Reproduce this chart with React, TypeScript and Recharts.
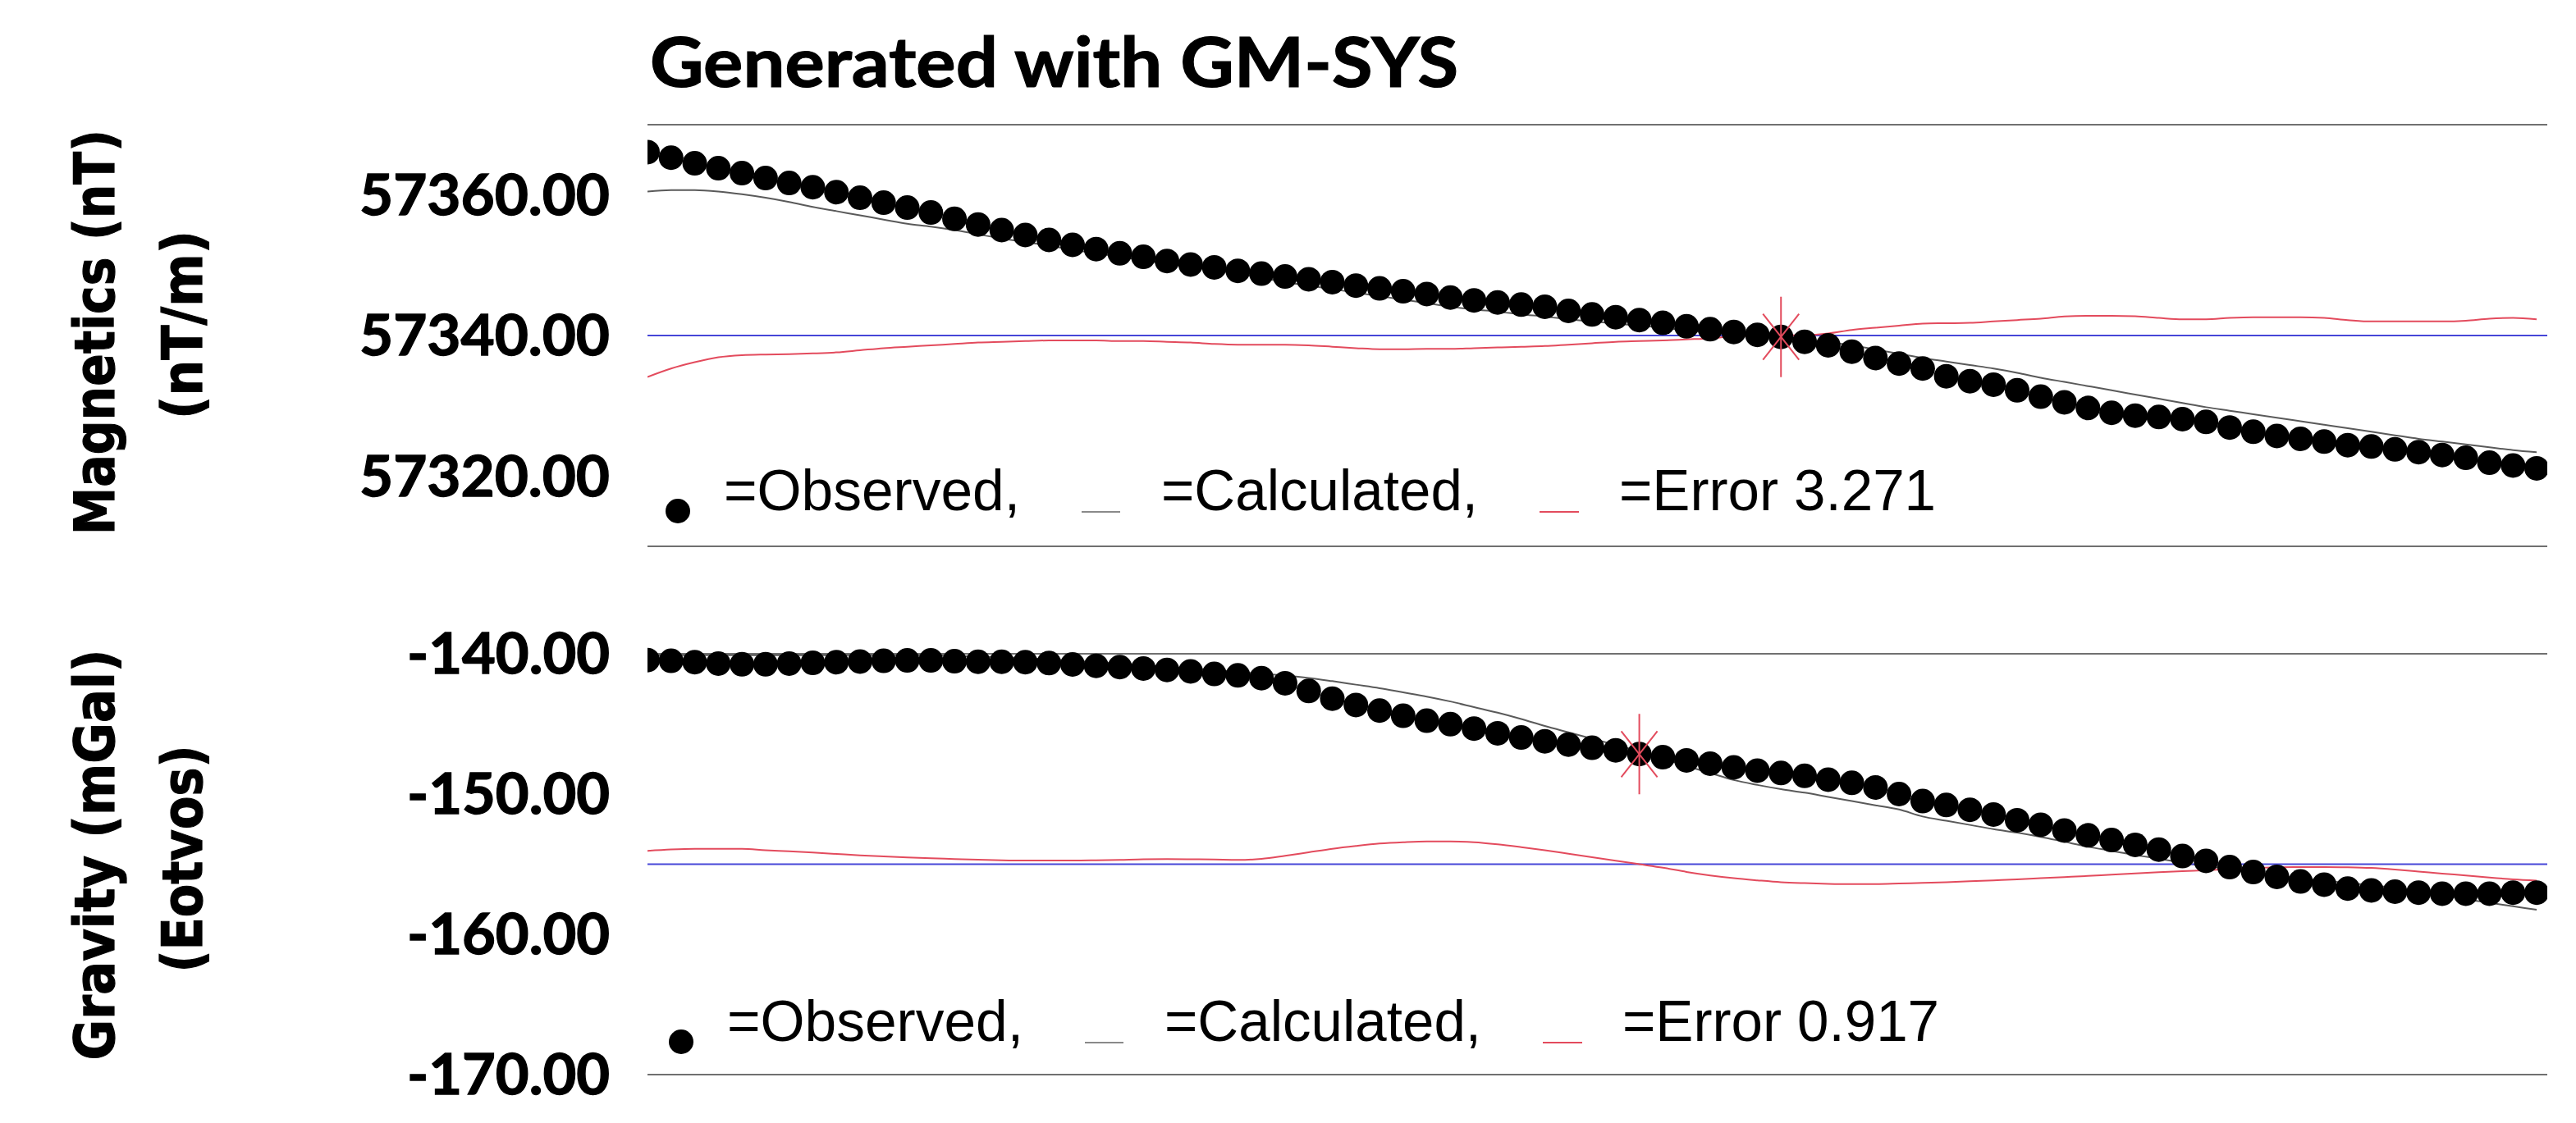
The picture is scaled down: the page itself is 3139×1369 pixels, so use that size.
import { ComposedChart, Scatter, Line, XAxis, YAxis, ReferenceLine, ReferenceDot } from "recharts";

const W = 3139;
const H = 1369;
const PLOT_LEFT = 789;
const PLOT_RIGHT = 3104;
const TICK_RIGHT = 743;

const GRAY = "#707070";
const CALC = "#5a5a5a";
const BLUE = "#4646d8";
const RED = "#e34b5d";

// Magnetics panel (nT), one value per station
const MAG_OBS = [
  57366.1, 57365.3, 57364.5, 57363.8, 57363.1, 57362.4, 57361.7, 57361.1, 57360.4, 57359.6,
  57358.9, 57358.2, 57357.5, 57356.6, 57355.8, 57355.0, 57354.3, 57353.6, 57352.9, 57352.3,
  57351.7, 57351.2, 57350.6, 57350.1, 57349.7, 57349.2, 57348.8, 57348.4, 57348.0, 57347.6,
  57347.1, 57346.7, 57346.3, 57345.9, 57345.4, 57345.0, 57344.7, 57344.4, 57344.1, 57343.5,
  57343.0, 57342.6, 57342.2, 57341.8, 57341.3, 57340.9, 57340.5, 57340.1, 57339.8, 57339.1,
  57338.6, 57337.7, 57336.8, 57336.0, 57335.3, 57334.2, 57333.5, 57333.0, 57332.2, 57331.3,
  57330.5, 57329.7, 57329.0, 57328.6, 57328.4, 57328.1, 57327.7, 57326.9, 57326.3, 57325.7,
  57325.3, 57324.9, 57324.4, 57324.2, 57323.8, 57323.4, 57323.0, 57322.6, 57321.9, 57321.5,
  57321.1,
];
const MAG_CALC = [
  57360.5, 57360.7, 57360.7, 57360.5, 57360.1, 57359.6, 57359.0, 57358.3, 57357.7, 57357.1,
  57356.5, 57355.9, 57355.5, 57355.0, 57354.4, 57353.8, 57353.3, 57352.8, 57352.2, 57351.7,
  57351.2, 57350.7, 57350.2, 57349.8, 57349.3, 57348.8, 57348.2, 57347.6, 57347.1, 57346.6,
  57346.1, 57345.6, 57345.1, 57344.6, 57344.1, 57343.7, 57343.4, 57343.0, 57342.7, 57342.3,
  57342.0, 57341.7, 57341.4, 57341.1, 57340.7, 57340.4, 57340.1, 57339.8, 57339.6, 57339.3,
  57339.0, 57338.6, 57338.0, 57337.4, 57336.8, 57336.3, 57335.8, 57335.3, 57334.7, 57334.0,
  57333.4, 57332.8, 57332.2, 57331.6, 57331.0, 57330.4, 57329.8, 57329.3, 57328.8, 57328.3,
  57327.8, 57327.3, 57326.8, 57326.3, 57325.8, 57325.3, 57324.9, 57324.5, 57324.1, 57323.7,
  57323.4,
];
const MAG_ERR = [
  -5.9, -4.7, -3.8, -3.1, -2.8, -2.7, -2.65, -2.55, -2.4, -2.1,
  -1.8, -1.6, -1.4, -1.2, -1.0, -0.9, -0.8, -0.7, -0.7, -0.7,
  -0.8, -0.8, -0.9, -1.0, -1.2, -1.3, -1.3, -1.3, -1.4, -1.6,
  -1.8, -1.95, -1.95, -1.9, -1.9, -1.8, -1.7, -1.6, -1.5, -1.3,
  -1.1, -0.9, -0.8, -0.7, -0.55, -0.4, -0.1, 0.0, 0.0, 0.05,
  0.3, 0.8, 1.1, 1.4, 1.7, 1.75, 1.8, 2.0, 2.2, 2.4,
  2.7, 2.8, 2.8, 2.75, 2.5, 2.3, 2.3, 2.5, 2.6, 2.6,
  2.6, 2.5, 2.2, 2.0, 2.0, 2.0, 2.0, 2.1, 2.4, 2.5,
  2.3,
];
const MAG_TICKS = [57320, 57340, 57360];
const MAG_RMS = "3.271";

// Gravity panel (mGal)
const GRAV_OBS = [
  -140.45, -140.5, -140.6, -140.7, -140.75, -140.75, -140.7, -140.65, -140.6, -140.55,
  -140.5, -140.47, -140.47, -140.53, -140.57, -140.57, -140.6, -140.66, -140.76, -140.86,
  -140.95, -141.05, -141.15, -141.25, -141.44, -141.54, -141.74, -142.1, -142.65, -143.2,
  -143.65, -144.05, -144.42, -144.77, -145.02, -145.33, -145.67, -145.97, -146.24, -146.47,
  -146.7, -146.88, -147.15, -147.37, -147.6, -147.83, -148.1, -148.33, -148.5, -148.7,
  -148.97, -149.2, -149.53, -150.0, -150.5, -150.78, -151.12, -151.46, -151.87, -152.19,
  -152.6, -152.94, -153.28, -153.62, -153.96, -154.42, -154.76, -155.21, -155.56, -155.9,
  -156.23, -156.46, -156.74, -156.87, -156.96, -157.03, -157.1, -157.1, -157.1, -157.03,
  -157.03,
];
const GRAV_CALC = [
  -140.1, -140.1, -140.1, -140.1, -140.1, -140.1, -140.1, -140.1, -140.1, -140.1,
  -140.1, -140.1, -140.1, -140.15, -140.2, -140.25, -140.3, -140.4, -140.5, -140.6,
  -140.7, -140.8, -140.95, -141.05, -141.15, -141.3, -141.42, -141.55, -141.72, -141.95,
  -142.2, -142.45, -142.75, -143.05, -143.4, -143.8, -144.2, -144.65, -145.15, -145.6,
  -146.05, -146.5, -146.95, -147.45, -148.0, -148.5, -149.0, -149.35, -149.65, -149.9,
  -150.2, -150.5, -150.8, -151.1, -151.6, -151.9, -152.2, -152.5, -152.75, -153.05,
  -153.4, -153.75, -154.05, -154.35, -154.6, -154.9, -155.15, -155.35, -155.55, -155.8,
  -156.0, -156.15, -156.35, -156.5, -156.7, -157.0, -157.2, -157.5, -157.75, -158.0,
  -158.25,
];
const GRAV_ERR = [
  0.95, 1.05, 1.1, 1.1, 1.1, 1.0, 0.92, 0.83, 0.73, 0.63,
  0.55, 0.48, 0.42, 0.37, 0.32, 0.28, 0.26, 0.26, 0.26, 0.28,
  0.31, 0.35, 0.36, 0.35, 0.33, 0.3, 0.38, 0.6, 0.85, 1.1,
  1.3, 1.47, 1.57, 1.63, 1.62, 1.57, 1.42, 1.22, 1.0, 0.75,
  0.5, 0.25, 0.0, -0.25, -0.55, -0.8, -1.0, -1.15, -1.28, -1.35,
  -1.4, -1.42, -1.42, -1.38, -1.33, -1.28, -1.22, -1.15, -1.08, -1.0,
  -0.92, -0.84, -0.75, -0.66, -0.57, -0.5, -0.42, -0.35, -0.28, -0.22,
  -0.2, -0.2, -0.22, -0.27, -0.38, -0.52, -0.67, -0.8, -0.95, -1.08,
  -1.17,
];
const GRAV_TICKS = [-170, -160, -150, -140];
const GRAV_RMS = "0.917";

function buildRows(obs: number[], calc: number[], err: number[]) {
  return obs.map((o, i) => ({ st: i, obs: o, calc: calc[i], err: err[i] }));
}

const MAG_ROWS = buildRows(MAG_OBS, MAG_CALC, MAG_ERR);
const GRAV_ROWS = buildRows(GRAV_OBS, GRAV_CALC, GRAV_ERR);

function ObsDot(p: any) {
  if (p.cx == null || p.cy == null) return null;
  return <circle cx={p.cx} cy={p.cy} r={15} fill="#000" />;
}

function Star(p: any) {
  const { cx, cy } = p;
  return (
    <g stroke={RED} strokeWidth={2}>
      <line x1={cx} y1={cy - 49} x2={cx} y2={cy + 49} />
      <line x1={cx - 22} y1={cy - 28} x2={cx + 22} y2={cy + 28} />
      <line x1={cx - 22} y1={cy + 28} x2={cx + 22} y2={cy - 28} />
    </g>
  );
}

// rough width of a tick label in the condensed bold face of the original
function labelLen(s: string) {
  let w = 0;
  for (const ch of s) w += ch === "." ? 18 : ch === "-" ? 24 : 41;
  return w;
}

function TickLabel(p: any) {
  const s = Number(p.payload.value).toFixed(2);
  return (
    <text
      x={TICK_RIGHT}
      y={p.y}
      dy="0.36em"
      textAnchor="end"
      fontFamily="Lato"
      fontWeight={700}
      fontSize={68}
      fill="#000"
      stroke="#000"
      strokeWidth={1.3}
      textLength={labelLen(s)}
      lengthAdjust="spacingAndGlyphs"
    >
      {s}
    </text>
  );
}

interface PanelProps {
  top: number;
  height: number;
  plotTop: number;
  plotBottom: number;
  rows: { st: number; obs: number; calc: number; err: number }[];
  domain: [number, number];
  ticks: number[];
  errDomain: [number, number];
  star: number;
}

function Panel({ top, height, plotTop, plotBottom, rows, domain, ticks, errDomain, star }: PanelProps) {
  return (
    <div style={{ position: "absolute", left: 0, top }}>
      <ComposedChart
        width={W}
        height={height}
        data={rows}
        margin={{ top: plotTop - top, right: W - PLOT_RIGHT, bottom: top + height - plotBottom, left: 0 }}
      >
        <XAxis dataKey="st" type="number" domain={[0, 80.45]} hide allowDataOverflow />
        <YAxis
          yAxisId="v"
          type="number"
          domain={domain}
          ticks={ticks}
          width={PLOT_LEFT}
          tickSize={0}
          axisLine={false}
          tickLine={false}
          tick={TickLabel}
        />
        <YAxis yAxisId="err" type="number" domain={errDomain} hide />
        <ReferenceLine yAxisId="v" y={domain[1]} stroke={GRAY} strokeWidth={2} />
        <ReferenceLine yAxisId="v" y={domain[0]} stroke={GRAY} strokeWidth={2} />
        <Scatter yAxisId="v" dataKey="obs" shape={ObsDot} isAnimationActive={false} />
        <Line yAxisId="v" dataKey="calc" type="monotone" stroke={CALC} strokeWidth={2} dot={false} isAnimationActive={false} />
        <ReferenceLine yAxisId="err" y={0} stroke={BLUE} strokeWidth={2} />
        <Line yAxisId="err" dataKey="err" type="monotone" stroke={RED} strokeWidth={2} dot={false} isAnimationActive={false} />
        <ReferenceDot yAxisId="v" x={star} y={rows[star].obs} shape={Star} />
      </ComposedChart>
    </div>
  );
}

function LegendRow({ y, dx, rms }: { y: number; dx: number; rms: string }) {
  const txt = { fontFamily: "Liberation Sans, Arial, sans-serif", fontSize: 71, fill: "#000" };
  return (
    <g>
      <circle cx={826 + dx} cy={y + 1} r={15} fill="#000" />
      <text x={882 + dx} y={y} {...txt} textLength={361} lengthAdjust="spacingAndGlyphs">=Observed,</text>
      <line x1={1318 + dx} x2={1365 + dx} y1={y + 2} y2={y + 2} stroke="#8a8a8a" strokeWidth={2} />
      <text x={1415 + dx} y={y} {...txt} textLength={386} lengthAdjust="spacingAndGlyphs">=Calculated,</text>
      <line x1={1876 + dx} x2={1924 + dx} y1={y + 2} y2={y + 2} stroke={RED} strokeWidth={2} />
      <text x={1973 + dx} y={y} {...txt} textLength={386} lengthAdjust="spacingAndGlyphs">{`=Error ${rms}`}</text>
    </g>
  );
}

function AxisTitle({ x, y, len, children }: { x: number; y: number; len: number; children: string }) {
  return (
    <text
      transform={`translate(${x},${y}) rotate(-90)`}
      textAnchor="middle"
      dominantBaseline="central"
      fontFamily="DejaVu Sans, Verdana, sans-serif"
      fontWeight={700}
      fontSize={67}
      stroke="#000"
      strokeWidth={1.2}
      textLength={len}
      lengthAdjust="spacingAndGlyphs"
      fill="#000"
    >
      {children}
    </text>
  );
}

export default function App() {
  return (
    <div style={{ position: "absolute", left: 0, top: 0, width: W, height: H, background: "#fff", overflow: "hidden" }}>
      <Panel
        top={0}
        height={700}
        plotTop={152}
        plotBottom={666}
        rows={MAG_ROWS}
        domain={[57310, 57370]}
        ticks={MAG_TICKS}
        errDomain={[-30, 30]}
        star={48}
      />
      <Panel
        top={700}
        height={669}
        plotTop={797}
        plotBottom={1310}
        rows={GRAV_ROWS}
        domain={[-170, -140]}
        ticks={GRAV_TICKS}
        errDomain={[-15, 15]}
        star={42}
      />
      <svg width={W} height={H} style={{ position: "absolute", left: 0, top: 0, pointerEvents: "none" }}>
        <text
          x={792}
          y={106}
          fontFamily="Lato"
          fontWeight={700}
          fontSize={84}
          stroke="#000"
          strokeWidth={1.2}
          textLength={985}
          lengthAdjust="spacingAndGlyphs"
          fill="#000"
        >
          Generated with GM-SYS
        </text>
        <AxisTitle x={116} y={405} len={494}>Magnetics (nT)</AxisTitle>
        <AxisTitle x={223} y={396} len={230}>(nT/m)</AxisTitle>
        <AxisTitle x={116} y={1042} len={501}>Gravity (mGal)</AxisTitle>
        <AxisTitle x={223} y={1047} len={277}>(Eotvos)</AxisTitle>
        <LegendRow y={622} dx={0} rms={MAG_RMS} />
        <LegendRow y={1269} dx={4} rms={GRAV_RMS} />
      </svg>
    </div>
  );
}
